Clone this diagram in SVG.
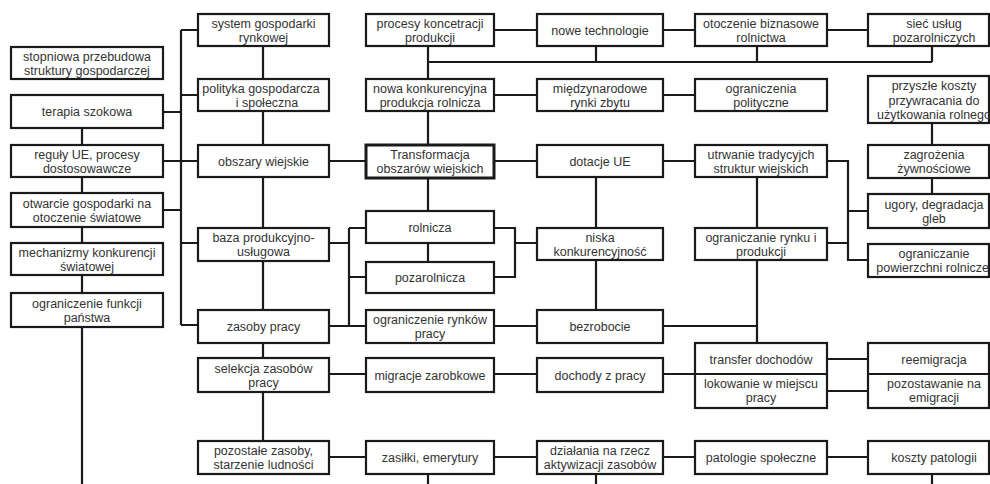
<svg xmlns="http://www.w3.org/2000/svg" width="990" height="484" viewBox="0 0 990 484">
<style>
.b{fill:#fff;stroke:#1a1a1a;stroke-width:2.2}
.bt{fill:#fff;stroke:#1a1a1a;stroke-width:3}
.c{fill:none;stroke:#1a1a1a;stroke-width:2.2}
text{font-family:"Liberation Sans",Arial,sans-serif;font-size:12.5px;fill:#333;text-anchor:middle}
</style>
<rect width="990" height="484" fill="#fff"/>
<g id="connectors" class="c">
<path d="M181,30V325M181,30H198M181,95H198M181,161H198M181,243H198M181,325H198M163,112H181M163,161H181M163,210H181"/>
<path d="M82,128V145M82,177V193M82,227V243M82,275V293M82,327V484"/>
<path d="M263,46V79M263,111V145M263,177V228M263,261V310M263,343V358M263,392V441"/>
<path d="M428,46V79M428,111V145M428,178V211M428,243V262M428,474V484"/>
<path d="M428,62H932M596,46V62M757,46V62M932,46V62"/>
<path d="M494,30H537M663,30H695M827,30H868M494,95H537M663,95H695"/>
<path d="M329,161H366M494,161H537M663,161H695"/>
<path d="M827,161H848V260H868M827,243H848M848,211H868"/>
<path d="M932,123V145M932,178V194"/>
<path d="M757,177V228M757,260V343M663,326H757"/>
<path d="M596,177V228M596,260V310"/>
<path d="M349,228V326M329,243H349M349,228H366M349,277H366M329,326H366"/>
<path d="M494,228H515V277H494M515,243H537M494,326H537"/>
<path d="M329,374H366M494,374H537M663,374H695M827,359H868M827,391H868"/>
<path d="M329,457H366M494,457H537M663,457H695M827,457H868"/>
<path d="M596,474V484M932,474V484"/>
</g>
<g id="n-stopniowa"><rect class="b" x="11" y="47" width="152" height="32"/><text x="87" y="60.5">stopniowa przebudowa</text><text x="87" y="74.5">struktury gospodarczej</text></g>
<g id="n-terapia"><rect class="b" x="11" y="95" width="152" height="33"/><text x="87" y="116">terapia szokowa</text></g>
<g id="n-reguly"><rect class="b" x="11" y="145" width="152" height="32"/><text x="87" y="158.5">reguły UE, procesy</text><text x="87" y="172.5">dostosowawcze</text></g>
<g id="n-otwarcie"><rect class="b" x="11" y="193" width="152" height="34"/><text x="87" y="207.5">otwarcie gospodarki na</text><text x="87" y="221.5">otoczenie światowe</text></g>
<g id="n-mechanizmy"><rect class="b" x="11" y="243" width="152" height="32"/><text x="87" y="256.5">mechanizmy konkurencji</text><text x="87" y="270.5">światowej</text></g>
<g id="n-ograniczenie-funkcji"><rect class="b" x="11" y="293" width="152" height="34"/><text x="87" y="307.5">ograniczenie funkcji</text><text x="87" y="321.5">państwa</text></g>

<g id="n-system"><rect class="b" x="198" y="14" width="131" height="32"/><text x="263.5" y="27.5">system gospodarki</text><text x="263.5" y="41.5">rynkowej</text></g>
<g id="n-polityka"><rect class="b" x="198" y="79" width="131" height="32"/><text x="261" y="92.5">polityka gospodarcza</text><text x="267" y="106.5">i społeczna</text></g>
<g id="n-obszary"><rect class="b" x="198" y="145" width="131" height="32"/><text x="263.5" y="165.5">obszary wiejskie</text></g>
<g id="n-baza"><rect class="b" x="198" y="228" width="131" height="33"/><text x="263.5" y="242">baza produkcyjno-</text><text x="263.5" y="256">usługowa</text></g>
<g id="n-zasoby"><rect class="b" x="198" y="310" width="131" height="33"/><text x="263.5" y="331">zasoby pracy</text></g>
<g id="n-selekcja"><rect class="b" x="198" y="358" width="131" height="34"/><text x="263.5" y="372.5">selekcja zasobów</text><text x="263.5" y="386.5">pracy</text></g>
<g id="n-pozostale"><rect class="b" x="198" y="441" width="131" height="33"/><text x="263.5" y="455">pozostałe zasoby,</text><text x="263.5" y="469">starzenie ludności</text></g>

<g id="n-procesy"><rect class="b" x="366" y="14" width="128" height="32"/><text x="430" y="27.5">procesy koncetracji</text><text x="430" y="41.5">produkcji</text></g>
<g id="n-nowa"><rect class="b" x="366" y="79" width="128" height="32"/><text x="430" y="92.5">nowa konkurencyjna</text><text x="430" y="106.5">produkcja rolnicza</text></g>
<g id="n-transformacja"><rect class="bt" x="366" y="145" width="128" height="33"/><text x="430" y="159">Transformacja</text><text x="430" y="173">obszarów wiejskich</text></g>
<g id="n-rolnicza"><rect class="b" x="366" y="211" width="128" height="32"/><text x="430" y="231.5">rolnicza</text></g>
<g id="n-pozarolnicza"><rect class="b" x="366" y="262" width="128" height="31"/><text x="430" y="282">pozarolnicza</text></g>
<g id="n-ograniczenie-rynkow"><rect class="b" x="366" y="310" width="128" height="33"/><text x="430" y="324">ograniczenie rynków</text><text x="430" y="338">pracy</text></g>
<g id="n-migracje"><rect class="b" x="366" y="358" width="128" height="34"/><text x="430" y="379.5">migracje zarobkowe</text></g>
<g id="n-zasilki"><rect class="b" x="366" y="441" width="128" height="33"/><text x="430" y="462">zasiłki, emerytury</text></g>

<g id="n-nowe-technologie"><rect class="b" x="537" y="14" width="126" height="32"/><text x="600" y="34.5">nowe technologie</text></g>
<g id="n-miedzynarodowe"><rect class="b" x="537" y="79" width="126" height="32"/><text x="600" y="92.5">międzynarodowe</text><text x="600" y="106.5">rynki zbytu</text></g>
<g id="n-dotacje"><rect class="b" x="537" y="145" width="126" height="32"/><text x="600" y="165.5">dotacje UE</text></g>
<g id="n-niska"><rect class="b" x="537" y="228" width="126" height="32"/><text x="600" y="241.5">niska</text><text x="600" y="255.5">konkurencyjność</text></g>
<g id="n-bezrobocie"><rect class="b" x="537" y="310" width="126" height="33"/><text x="600" y="331">bezrobocie</text></g>
<g id="n-dochody"><rect class="b" x="537" y="358" width="126" height="34"/><text x="600" y="379.5">dochody z pracy</text></g>
<g id="n-dzialania"><rect class="b" x="537" y="441" width="126" height="33"/><text x="600" y="455">działania na rzecz</text><text x="600" y="469">aktywizacji zasobów</text></g>

<g id="n-otoczenie"><rect class="b" x="695" y="14" width="132" height="32"/><text x="761" y="27.5">otoczenie biznasowe</text><text x="761" y="41.5">rolnictwa</text></g>
<g id="n-ograniczenia-polityczne"><rect class="b" x="695" y="79" width="132" height="32"/><text x="761" y="92.5">ograniczenia</text><text x="761" y="106.5">polityczne</text></g>
<g id="n-utrwanie"><rect class="b" x="695" y="145" width="132" height="32"/><text x="761" y="158.5">utrwanie tradycyjch</text><text x="761" y="172.5">struktur wiejskich</text></g>
<g id="n-ograniczanie-rynku"><rect class="b" x="695" y="228" width="132" height="32"/><text x="761" y="241.5">ograniczanie rynku i</text><text x="761" y="255.5">produkcji</text></g>
<g id="n-transfer"><rect class="b" x="695" y="343" width="132" height="65"/><line class="c" x1="695" y1="374" x2="827" y2="374"/><text x="761" y="363.5">transfer dochodów</text><text x="761" y="388">lokowanie w miejscu</text><text x="761" y="402">pracy</text></g>
<g id="n-patologie"><rect class="b" x="695" y="441" width="132" height="33"/><text x="761" y="462">patologie społeczne</text></g>

<g id="n-siec"><rect class="b" x="868" y="14" width="121" height="32"/><text x="934" y="27.5">sieć usług</text><text x="934" y="41.5">pozarolniczych</text></g>
<g id="n-przyszle"><rect class="b" x="868" y="76" width="121" height="47"/><text x="934" y="90">przyszłe koszty</text><text x="934" y="104.5">przywracania do</text><text x="934" y="119">użytkowania rolnego</text></g>
<g id="n-zagrozenia"><rect class="b" x="868" y="145" width="121" height="33"/><text x="934" y="159">zagrożenia</text><text x="934" y="173">żywnościowe</text></g>
<g id="n-ugory"><rect class="b" x="868" y="194" width="121" height="34"/><text x="934" y="208.5">ugory, degradacja</text><text x="934" y="222.5">gleb</text></g>
<g id="n-ograniczanie-powierzchni"><rect class="b" x="868" y="244" width="121" height="33"/><text x="934" y="258">ograniczanie</text><text x="934" y="272">powierzchni rolniczej</text></g>
<g id="n-reemigracja"><rect class="b" x="868" y="343" width="121" height="65"/><line class="c" x1="868" y1="374" x2="989" y2="374"/><text x="934" y="363.5">reemigracja</text><text x="934" y="388">pozostawanie na</text><text x="934" y="402">emigracji</text></g>
<g id="n-koszty-patologii"><rect class="b" x="868" y="441" width="121" height="33"/><text x="934" y="462">koszty patologii</text></g>
</svg>
